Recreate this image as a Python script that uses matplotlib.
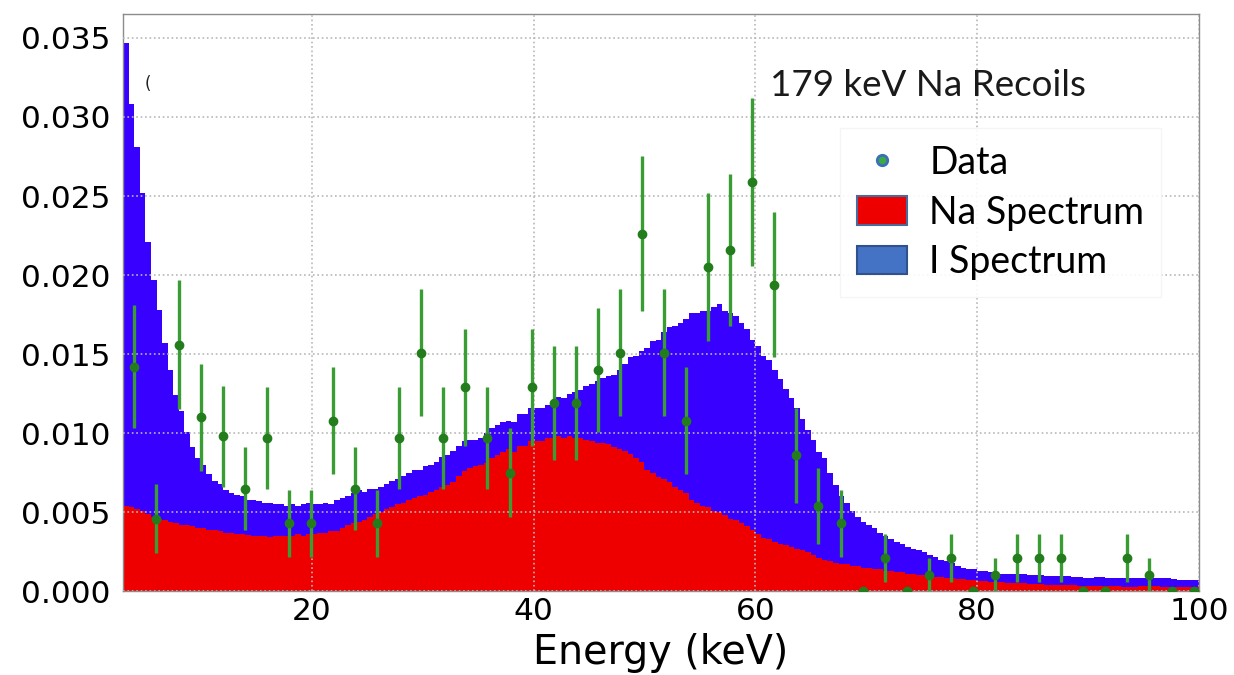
import matplotlib
matplotlib.use("Agg")
import numpy as np
import matplotlib.pyplot as plt
from matplotlib.patches import Patch
from matplotlib.lines import Line2D
from matplotlib.ticker import FormatStrFormatter

# ---- simulated recoil spectra, 0.5 keV bins from 3 to 100 keV ----
bin_edges = np.arange(3.0, 100.001, 0.5)

na_spectrum = [
    0.0054, 0.0053, 0.0052, 0.0051, 0.0049, 0.0047, 0.0046, 0.0045, 0.0044, 0.0043,
    0.0042, 0.0042, 0.0041, 0.0040, 0.0040, 0.0039, 0.0039, 0.0038, 0.0037, 0.0037,
    0.0036, 0.0036, 0.00355, 0.0035, 0.0035, 0.0035, 0.00345, 0.0035, 0.0035, 0.0035,
    0.0035, 0.0036, 0.0035, 0.0036, 0.0036, 0.0037, 0.0037, 0.0038, 0.0038, 0.0040,
    0.0042, 0.0043, 0.0044, 0.0045, 0.0047, 0.0049, 0.0050, 0.0052, 0.0053, 0.0055,
    0.0056, 0.0058, 0.0059, 0.0060, 0.0061, 0.0063, 0.0064, 0.0066, 0.0067, 0.0069,
    0.0073, 0.0076, 0.0078, 0.0079, 0.0080, 0.0081, 0.0084, 0.0086, 0.0088, 0.0090,
    0.0088, 0.0092, 0.0092, 0.0095, 0.0095, 0.0095, 0.0097, 0.0097, 0.0098, 0.0097,
    0.0098, 0.0097, 0.0097, 0.0096, 0.0095, 0.0094, 0.0094, 0.0093, 0.0091, 0.0090,
    0.0089, 0.0087, 0.0084, 0.0082, 0.0077, 0.0075, 0.0072, 0.0071, 0.0069, 0.0066,
    0.0064, 0.0062, 0.0058, 0.0056, 0.0054, 0.0053, 0.0051, 0.0050, 0.0048, 0.0046,
    0.0045, 0.0043, 0.0041, 0.0039, 0.0036, 0.0034, 0.0033, 0.0031, 0.0030, 0.0029,
    0.0028, 0.0027, 0.0026, 0.0025, 0.0023, 0.0021, 0.0020, 0.0019, 0.0018, 0.00175,
    0.0017, 0.0016, 0.0016, 0.0015, 0.0015, 0.0014, 0.0014, 0.0013, 0.0013, 0.0012,
    0.0012, 0.0011, 0.0011, 0.0010, 0.0010, 0.0010, 0.00093, 0.0009, 0.00087, 0.00083,
    0.0008, 0.00077, 0.00073, 0.0007, 0.00066, 0.00062, 0.0006, 0.00058, 0.00056, 0.00055,
    0.00053, 0.00051, 0.0005, 0.00048, 0.00046, 0.00045, 0.00043, 0.00041, 0.0004, 0.0004,
    0.00038, 0.00037, 0.00036, 0.00035, 0.00035, 0.00034, 0.00033, 0.00033, 0.00032, 0.00031,
    0.0003, 0.0003, 0.0003, 0.00031, 0.00032, 0.00032, 0.00031, 0.0003, 0.0003, 0.0003,
    0.0003, 0.0003, 0.0003, 0.0003,
]

# Na + I stacked (top of the blue I-recoil layer)
na_plus_i = [
    0.0347, 0.0308, 0.0281, 0.0252, 0.0221, 0.0197, 0.0178, 0.0157, 0.0140, 0.0124,
    0.0114, 0.0101, 0.0091, 0.0084, 0.0080, 0.0074, 0.0070, 0.0068, 0.0064, 0.0062,
    0.0061, 0.0060, 0.0058, 0.0058, 0.0057, 0.0056, 0.0056, 0.0055, 0.0055, 0.0054,
    0.0055, 0.0054, 0.0055, 0.0056, 0.0055, 0.0055, 0.0056, 0.0055, 0.0058, 0.0059,
    0.0060, 0.0062, 0.0064, 0.0063, 0.0065, 0.0065, 0.0066, 0.0068, 0.0070, 0.0071,
    0.0073, 0.0075, 0.0077, 0.0077, 0.0079, 0.0080, 0.0082, 0.0085, 0.0086, 0.0089,
    0.0092, 0.0095, 0.0096, 0.0096, 0.0097, 0.0100, 0.0103, 0.0105, 0.0107, 0.0108,
    0.0107, 0.0112, 0.0112, 0.0116, 0.0116, 0.0116, 0.0118, 0.0120, 0.0123, 0.0122,
    0.0125, 0.0126, 0.0127, 0.0130, 0.0131, 0.0133, 0.0135, 0.0136, 0.0137, 0.0140,
    0.0144, 0.0148, 0.0149, 0.0152, 0.0154, 0.0158, 0.0159, 0.0164, 0.0167, 0.0168,
    0.0170, 0.0172, 0.0176, 0.0176, 0.0177, 0.0177, 0.0180, 0.0182, 0.0177, 0.0176,
    0.0174, 0.0170, 0.0166, 0.0159, 0.0155, 0.0149, 0.0146, 0.0140, 0.0134, 0.0128,
    0.0122, 0.0116, 0.0109, 0.0102, 0.0096, 0.0088, 0.0084, 0.0075, 0.0067, 0.0060,
    0.0056, 0.0051, 0.0047, 0.0044, 0.0042, 0.0040, 0.0037, 0.0035, 0.0033, 0.0031,
    0.0030, 0.0028, 0.0027, 0.0026, 0.0025, 0.0023, 0.0022, 0.0020, 0.0019, 0.0018,
    0.0016, 0.0015, 0.0014, 0.0014, 0.0013, 0.0013, 0.0012, 0.0012, 0.0011, 0.0011,
    0.0011, 0.0011, 0.0011, 0.00105, 0.00104, 0.0010, 0.00098, 0.00098, 0.00098, 0.00096,
    0.00094, 0.00093, 0.0009, 0.00087, 0.00087, 0.00088, 0.00088, 0.00085, 0.00084, 0.00083,
    0.00083, 0.00083, 0.00083, 0.00082, 0.00084, 0.00085, 0.00084, 0.00083, 0.00083, 0.00076,
    0.00073, 0.00073, 0.00073, 0.00073,
]

# ---- measured data points ----
data_energy = [
    4.00, 5.99, 7.98, 9.97, 11.96, 13.95, 15.94, 17.93, 19.92, 21.91,
    23.90, 25.89, 27.88, 29.87, 31.86, 33.85, 35.84, 37.83, 39.82, 41.81,
    43.80, 45.79, 47.78, 49.77, 51.76, 53.75, 55.74, 57.73, 59.72, 61.71,
    63.70, 65.69, 67.68, 69.67, 71.66, 73.65, 75.64, 77.63, 79.62, 81.61,
    83.60, 85.59, 87.58, 89.57, 91.56, 93.55, 95.54, 97.53, 99.52,
]
data_value = [
    0.0142, 0.0046, 0.0156, 0.0110, 0.0098, 0.0065, 0.0097, 0.0043, 0.0043, 0.0108,
    0.0065, 0.0043, 0.0097, 0.0151, 0.0097, 0.0129, 0.0097, 0.0075, 0.0129, 0.0119,
    0.0119, 0.0140, 0.0151, 0.0226, 0.0151, 0.0108, 0.0205, 0.0216, 0.0259, 0.0194,
    0.0086, 0.0054, 0.0043, 0.0, 0.0021, 0.0, 0.00105, 0.0021, 0.0, 0.00105,
    0.0021, 0.0021, 0.0021, 0.0, 0.0, 0.0021, 0.00105, 0.0, 0.0,
]
data_error = [
    0.0039, 0.0022, 0.0041, 0.0034, 0.0032, 0.0026, 0.0032, 0.0021, 0.0021, 0.0034,
    0.0026, 0.0021, 0.0032, 0.0040, 0.0032, 0.0037, 0.0032, 0.0028, 0.0037, 0.0036,
    0.0036, 0.0039, 0.0040, 0.0049, 0.0040, 0.0034, 0.0047, 0.0048, 0.0053, 0.0046,
    0.0030, 0.0024, 0.0021, 0.0, 0.0015, 0.0, 0.00105, 0.0015, 0.0, 0.00105,
    0.0015, 0.0015, 0.0015, 0.0, 0.0, 0.0015, 0.00105, 0.0, 0.0,
]

y_ticks = [0.000, 0.005, 0.010, 0.015, 0.020, 0.025, 0.030, 0.035]
x_ticks = [20, 40, 60, 80, 100]

NA_RED = "#ee0000"
I_BLUE = "#3700ff"
ERR_GREEN = "#3a9d34"
DOT_GREEN = "#237d1c"

fig = plt.figure(figsize=(12.34, 6.75), dpi=100)
ax = fig.add_axes([0.0999, 0.124, 0.8717, 0.855])

ax.stairs(na_spectrum, bin_edges, baseline=0, fill=True, color=NA_RED,
          linewidth=0, zorder=1)
ax.stairs(na_plus_i, bin_edges, baseline=na_spectrum, fill=True, color=I_BLUE,
          linewidth=0, zorder=1)

ax.errorbar(data_energy, data_value, yerr=data_error, fmt="o",
            color=DOT_GREEN, ecolor=ERR_GREEN, elinewidth=2.4, capsize=0,
            markersize=6, zorder=4)

ax.set_xlim(3.0, 100.0)
ax.set_ylim(0.0, 0.0365)
ax.set_xticks(x_ticks)
ax.set_yticks(y_ticks)
ax.yaxis.set_major_formatter(FormatStrFormatter("%.3f"))
ax.tick_params(axis="both", length=0, labelsize=22.5)
ax.tick_params(axis="x", pad=4)
ax.tick_params(axis="y", pad=9)

ax.set_axisbelow(False)
ax.grid(True, linestyle=":", color="#b8b8b8", linewidth=1.2, zorder=2.5)

for sp in ax.spines.values():
    sp.set_color("#8c8c8c")
    sp.set_linewidth(1.0)

ax.set_xlabel("Energy (keV)", fontsize=28.5, labelpad=5)

ax.text(61.3, 0.03133, "179 keV Na Recoils", fontsize=26.5, family="Lato",
        color="#1a1a1a", va="baseline", ha="left", zorder=6)
ax.text(5.2, 0.0321, "(", fontsize=12, color="#222222", va="center",
        ha="center", zorder=6)

handles = [
    Line2D([], [], linestyle="none", marker="o", markersize=7.5,
           markerfacecolor="#3daa48", markeredgecolor="#3b6fb6",
           markeredgewidth=2),
    Patch(facecolor="#ee0000", edgecolor="#4a6b9a", linewidth=1.5),
    Patch(facecolor="#4472c4", edgecolor="#2f528f", linewidth=1.5),
]
labels = ["Data", "Na Spectrum", "I Spectrum"]
leg = ax.legend(handles, labels, loc="upper left",
                bbox_to_anchor=(0.6663, 0.8025), prop={"family": "Lato", "size": 27},
                frameon=True, fancybox=False, framealpha=0.9,
                edgecolor="#f4f4f4", facecolor="white",
                handlelength=1.33, handleheight=0.8, handletextpad=0.6,
                labelspacing=0.36, borderpad=0.45, borderaxespad=0.0)
leg.set_zorder(7)

fig.savefig("out.png", dpi=100)
